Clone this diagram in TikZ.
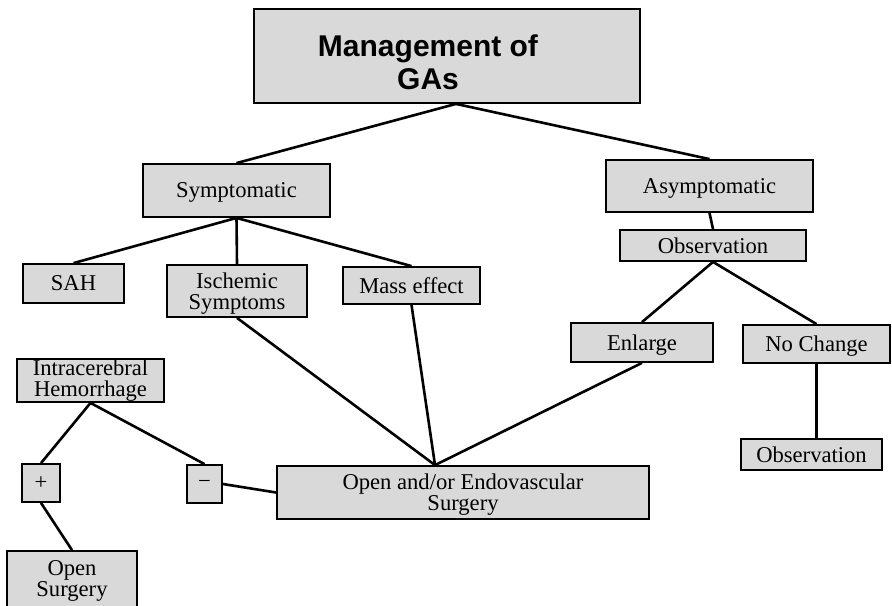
\documentclass[tikz,border=0pt]{standalone}
\usepackage{fontspec}
\setmainfont{Liberation Serif}
\newfontfamily\headfont{Liberation Sans}
\definecolor{boxgray}{gray}{0.85}

\begin{document}
\begin{tikzpicture}[x=0.5pt, y=-0.5pt,
    box/.style={draw, line width=0.9pt, fill=boxgray, inner sep=0pt, align=center,
                text depth=0pt, font=\fontsize{11.3}{10.5}\selectfont},
    link/.style={line width=1.3pt}]
    \clip (0,0) rectangle (892,605);

    \node[box, minimum width=193pt, minimum height=47pt,
          label={[xshift=-9.5pt, yshift=-3pt, align=center,
                  font=\headfont\bfseries\fontsize{15}{16.5}\selectfont]center:Management of\\GAs}] (title) at (447,56) {};

    \node[box, minimum width=93.5pt, minimum height=26.5pt] (sym) at (236.5,190.5) {Symptomatic};
    \node[box, minimum width=103.5pt, minimum height=26pt] (asym) at (709.5,186) {Asymptomatic};
    \node[box, minimum width=93pt, minimum height=15.5pt] (obsa) at (713,245.5) {Observation};

    \node[box, minimum width=50.5pt, minimum height=19.5pt] (sah) at (73.5,283.5) {SAH};
    \node[box, minimum width=70pt, minimum height=26pt] (isch) at (237,291) {Ischemic\\Symptoms};
    \node[box, minimum width=68.5pt, minimum height=18.5pt] (mass) at (411.5,285.5) {Mass effect};

    \node[box, minimum width=71pt, minimum height=19.5pt] (enl) at (642,342.5) {Enlarge};
    \node[box, minimum width=73.5pt, minimum height=19pt] (noch) at (816.5,344) {No Change};
    \node[box, minimum width=70.5pt, minimum height=15.5pt] (obsb) at (811.5,454.5) {Observation};

    \node[box, text depth=2.5pt, minimum width=73.5pt, minimum height=21.5pt] (ich) at (90.5,380.5) {Intracerebral\\Hemorrhage};
    \node[box, minimum width=19pt, minimum height=19pt] (plus) at (41,483) {+};
    \node[box, minimum width=17.5pt, minimum height=19pt] (minus) at (204.5,484) {−};
    \node[box, minimum width=186pt, minimum height=26.5pt] (oes) at (463,492.5) {Open and/or Endovascular\\Surgery};
    \node[box, minimum width=65pt, minimum height=28pt] (opens) at (72,579) {Open\\Surgery};

    \coordinate (top) at ([xshift=4.5pt]title.south);
    \coordinate (join) at ([xshift=-14pt]oes.north);

    \draw[link] (top) -- (sym.north);
    \draw[link] (top) -- (asym.north);
    \draw[link] (sym.south) -- (sah.north);
    \draw[link] (sym.south) -- (isch.north);
    \draw[link] (sym.south) -- (mass.north);
    \draw[link] (isch.south) -- (join);
    \draw[link] (mass.south) -- (join);
    \draw[link] (enl.south) -- (join);
    \draw[link] (asym.south) -- (obsa.north);
    \draw[link] (obsa.south) -- (enl.north);
    \draw[link] (obsa.south) -- (noch.north);
    \draw[link] (noch.south) -- (noch.south |- obsb.north);
    \draw[link] (ich.south) -- (plus.north);
    \draw[link] (ich.south) -- (minus.north);
    \draw[link] (plus.south) -- (opens.north);
    \draw[link] (minus.east) -- (oes.west);
\end{tikzpicture}
\end{document}
